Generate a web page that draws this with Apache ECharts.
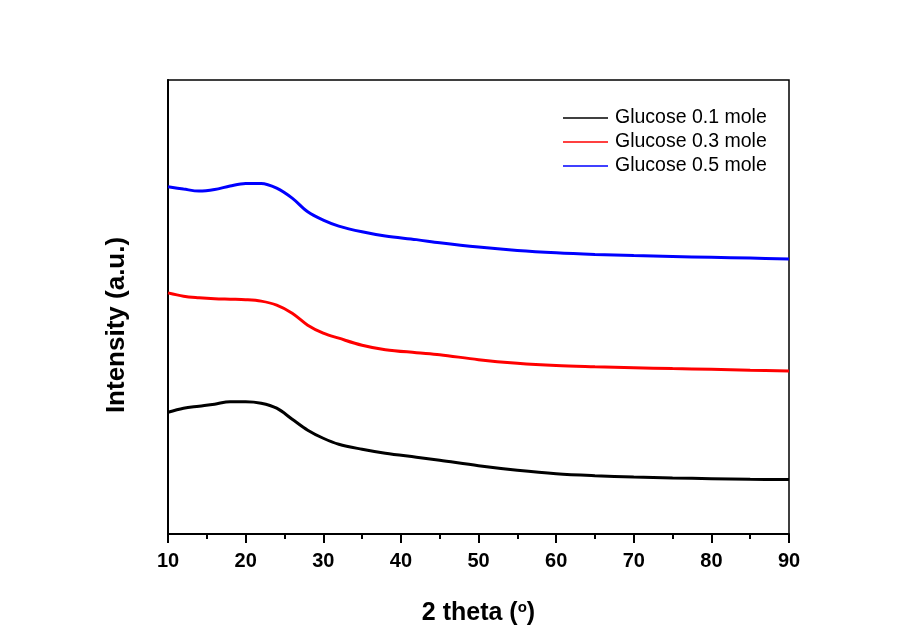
<!DOCTYPE html>
<html>
<head>
<meta charset="utf-8">
<script src="https://cdn.jsdelivr.net/npm/echarts@6/dist/echarts.min.js"></script>
<style>
  html, body { margin: 0; padding: 0; background: #fff; }
  #chart { width: 898px; height: 628px; }
</style>
</head>
<body>
<div id="chart"></div>
<script>
// 2 theta (degrees)
const twoTheta = [10, 12, 14, 16, 18, 20, 22, 24, 26, 28, 30, 32, 35, 38, 42, 45, 50, 55, 60, 65, 70, 75, 80, 85, 90];

// intensity, arbitrary units
const glucose01 = [26.82, 27.71, 28.15, 28.59, 29.14, 29.14, 28.81, 27.71, 25.28, 22.86, 21.09, 19.77, 18.67, 17.79,
  16.91, 16.24, 15.03, 14.04, 13.27, 12.83, 12.54, 12.34, 12.19, 12.06, 11.99];
const glucose03 = [53.12, 52.39, 52.06, 51.84, 51.73, 51.62, 51.29, 50.41, 48.64, 46.00, 44.24, 43.13, 41.59, 40.60,
  39.94, 39.50, 38.40, 37.62, 37.12, 36.85, 36.63, 36.43, 36.28, 36.08, 35.93];
const glucose05 = [76.48, 75.98, 75.53, 75.87, 76.64, 77.19, 77.23, 76.19, 73.99, 70.97, 69.14, 67.82, 66.56, 65.62,
  64.84, 64.14, 63.19, 62.46, 61.94, 61.58, 61.32, 61.12, 60.94, 60.77, 60.55];

const seriesNames = ['Glucose 0.1 mole', 'Glucose 0.3 mole', 'Glucose 0.5 mole'];
const seriesColors = ['#000000', '#ff0000', '#0000ff'];
const seriesData = [glucose01, glucose03, glucose05];

const font = 'Liberation Sans, Arial, sans-serif';

const chart = echarts.init(document.getElementById('chart'), null, { renderer: 'canvas' });

chart.setOption({
  animation: false,
  backgroundColor: '#ffffff',
  grid: {
    left: 168, top: 80, right: 109, bottom: 94,
    outerBoundsMode: 'none',
    show: true, borderColor: '#000', borderWidth: 1.5, backgroundColor: 'transparent'
  },
  legend: {
    orient: 'vertical',
    left: 558, top: 103,
    itemGap: 4,
    itemWidth: 45, itemHeight: 1.5,
    icon: 'rect',
    textStyle: { fontFamily: font, fontSize: 19.5, color: '#000', padding: [0, 0, 0, 2] },
    data: seriesNames
  },
  xAxis: {
    type: 'value',
    min: 10, max: 90, interval: 10,
    name: '2 theta ({sup|o})',
    nameLocation: 'middle',
    nameGap: 66,
    nameTextStyle: {
      fontFamily: font, fontSize: 25, fontWeight: 'bold', color: '#000',
      rich: { sup: { fontFamily: font, fontSize: 15, fontWeight: 'bold', color: '#000', verticalAlign: 'top', padding: [0, 0, 12, 0] } }
    },
    axisLine: { onZero: false, lineStyle: { color: '#000', width: 2 } },
    axisTick: { inside: false, length: 9, lineStyle: { color: '#000', width: 2 } },
    minorTick: { show: true, splitNumber: 2, length: 5, lineStyle: { color: '#000', width: 2 } },
    axisLabel: { fontFamily: font, fontSize: 20, fontWeight: 'bold', color: '#000', margin: 17 },
    splitLine: { show: false }
  },
  yAxis: {
    type: 'value',
    min: 0, max: 100,
    name: 'Intensity (a.u.)',
    nameLocation: 'middle',
    nameGap: 38,
    nameTextStyle: { fontFamily: font, fontSize: 26, fontWeight: 'bold', color: '#000', padding: [0, 36, 0, 0] },
    axisLine: { show: true, onZero: false, lineStyle: { color: '#000', width: 2 } },
    axisTick: { show: false },
    axisLabel: { show: false },
    splitLine: { show: false }
  },
  series: seriesNames.map((name, i) => ({
    name: name,
    type: 'line',
    data: twoTheta.map((x, j) => [x, seriesData[i][j]]),
    smooth: 0.35,
    showSymbol: false,
    color: seriesColors[i],
    lineStyle: { color: seriesColors[i], width: 3 }
  }))
});
</script>
</body>
</html>
